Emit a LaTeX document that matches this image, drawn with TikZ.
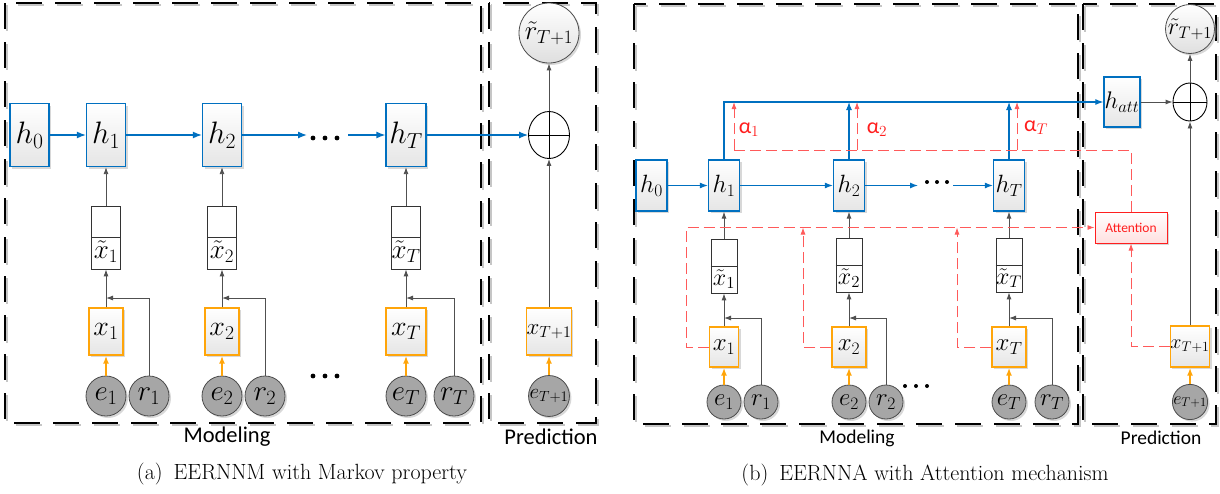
\RequirePackage{fix-cm}
\documentclass[tikz,border=0pt]{standalone}
\usepackage{fontspec}
\newfontfamily\calib{Carlito}
\usetikzlibrary{arrows.meta,shapes.geometric,shadows}
\definecolor{bblue}{RGB}{0,112,192}
\definecolor{oorange}{RGB}{255,165,10}
\definecolor{ggray}{RGB}{80,80,80}
\definecolor{cgray}{RGB}{166,166,166}
\definecolor{rred}{RGB}{255,30,30}
\definecolor{rpink}{RGB}{255,90,90}
\tikzset{
  shd/.style={drop shadow={shadow xshift=2pt,shadow yshift=-2pt,fill=black!30,opacity=.5}},
  hbox/.style={draw=bblue,line width=1.3pt,top color=white,bottom color=gray!20,inner sep=0pt,shd},
  xbox/.style={draw=oorange,line width=1.4pt,top color=white,bottom color=gray!20,inner sep=0pt,shd},
  tbox/.style={draw=black!80,line width=0.8pt,fill=white,inner sep=0pt},
  ecirc/.style={circle,draw=black!70,line width=0.8pt,fill=cgray,inner sep=0pt,shd},
  rcirc/.style={circle,draw=black!70,line width=0.8pt,top color=white,bottom color=gray!25,inner sep=0pt,shd},
  oplusn/.style={ellipse,draw=black,line width=0.9pt,fill=white,inner sep=0pt},
  attbox/.style={draw=rred,line width=1pt,top color=white,bottom color=red!12,inner sep=0pt,shd},
  blueArr/.style={bblue,line width=1.3pt,-{Latex[length=9pt,width=7pt]}},
  blueArrB/.style={bblue,line width=1.1pt,-{Latex[length=8pt,width=6pt]}},
  grayArr/.style={ggray,line width=0.9pt,-{Latex[length=7pt,width=5pt]}},
  orArr/.style={oorange,line width=1.6pt,-{Latex[length=8pt,width=6pt]}},
  redArr/.style={rpink,line width=0.9pt,dash pattern=on 11pt off 5pt,-{Latex[length=7pt,width=5pt]}},
  redLn/.style={rpink,line width=0.9pt,dash pattern=on 11pt off 5pt},
  framed/.style={line width=1.6pt,dash pattern=on 26pt off 13pt},
  frameSh/.style={gray!45,line width=1.6pt,dash pattern=on 26pt off 13pt},
  fa/.style={font=\fontsize{31}{33}\selectfont},
  fb/.style={font=\fontsize{25}{27}\selectfont},
  labA/.style={font=\calib\fontsize{22.5}{24}\selectfont,inner sep=0pt},
  labB/.style={font=\calib\fontsize{19.5}{22}\selectfont,inner sep=0pt},
  capt/.style={font=\fontsize{22}{24}\selectfont,inner sep=0pt},
  alab/.style={text=rred,font=\calib\fontsize{22}{24}\selectfont,inner sep=0pt}
}
\begin{document}
\begin{tikzpicture}[x=1pt,y=-1pt]
\useasboundingbox (0,0) rectangle (1220,493);
% ---------- frames (a)
\draw[frameSh] (7,5) rectangle (483,425);
\draw[frameSh] (491,5) rectangle (598,425);
\draw[framed] (5,3) rectangle (481,423);
\draw[framed] (489,3) rectangle (596,423);
% ---------- frames (b)
\draw[frameSh] (636,6) rectangle (1080,426);
\draw[frameSh] (1085,6) rectangle (1218,426);
\draw[framed] (634,4) rectangle (1078,424);
\draw[framed] (1083,4) rectangle (1216,424);

% ================= panel (a)
\node[hbox,fa,minimum width=39pt,minimum height=63pt] (h0a) at (29.5,135) {$h_0$};
\node[hbox,fa,minimum width=39pt,minimum height=63pt] (h1a) at (106,135) {$h_1$};
\node[hbox,fa,minimum width=39pt,minimum height=63pt] (h2a) at (222,135) {$h_2$};
\node[hbox,fa,minimum width=40pt,minimum height=63pt] (hTa) at (406,135) {$h_T$};
\node[oplusn,minimum width=41pt,minimum height=47pt] (opa) at (549,135) {};
\draw[black,line width=0.9pt] (opa.north) -- (opa.south) (opa.west) -- (opa.east);
\node[rcirc,minimum size=60pt,font=\fontsize{27}{29}\selectfont] (rta) at (549,33) {$\tilde r_{T+1}$};

\node[tbox,minimum width=29pt,minimum height=63pt] (xt1a) at (106,237.5) {};
\node[tbox,minimum width=29pt,minimum height=63pt] (xt2a) at (222,237.5) {};
\node[tbox,minimum width=29pt,minimum height=63pt] (xtTa) at (406,237.5) {};
\draw[black!80,line width=0.8pt] (xt1a.west) -- (xt1a.east) (xt2a.west) -- (xt2a.east) (xtTa.west) -- (xtTa.east);
\node[inner sep=0pt,font=\fontsize{27}{29}\selectfont] (lxt1a) at (106,252) {$\tilde{x}_1$};
\node[inner sep=0pt,font=\fontsize{27}{29}\selectfont] (lxt2a) at (222,252) {$\tilde{x}_2$};
\node[inner sep=0pt,font=\fontsize{27}{29}\selectfont] (lxtTa) at (406,252) {$\tilde{x}_T$};

\node[xbox,font=\fontsize{28}{30}\selectfont,minimum width=34pt,minimum height=47pt] (x1a) at (106,331.5) {$x_1$};
\node[xbox,font=\fontsize{28}{30}\selectfont,minimum width=34pt,minimum height=47pt] (x2a) at (222,331.5) {$x_2$};
\node[xbox,font=\fontsize{28}{30}\selectfont,minimum width=40pt,minimum height=47pt] (xTa) at (406,331.5) {$x_T$};
\node[xbox,font=\fontsize{23}{25}\selectfont,minimum width=43pt,minimum height=47pt] (xT1a) at (549,331.5) {$x_{T+1}$};

\node[ecirc,minimum size=40pt,font=\fontsize{29}{31}\selectfont] (e1a) at (106,396) {$e_1$};
\node[ecirc,minimum size=40pt,font=\fontsize{29}{31}\selectfont] (r1a) at (149,396) {$r_1$};
\node[ecirc,minimum size=40pt,font=\fontsize{29}{31}\selectfont] (e2a) at (222,396) {$e_2$};
\node[ecirc,minimum size=40pt,font=\fontsize{29}{31}\selectfont] (r2a) at (265,396) {$r_2$};
\node[ecirc,minimum size=40pt,font=\fontsize{29}{31}\selectfont] (eTa) at (406,396) {$e_T$};
\node[ecirc,minimum size=40pt,font=\fontsize{29}{31}\selectfont] (rTa) at (454,396) {$r_T$};
\node[ecirc,minimum size=40pt,font=\fontsize{21}{23}\selectfont] (eT1a) at (549,396) {$e_{T+1}$};

% dots
\foreach \xx in {313,325,337} {\fill (\xx,138) circle (2.4pt); \fill (\xx,376) circle (2.4pt);}
\coordinate (dAin) at (307,135);
\coordinate (dAout) at (348,135);

% connectors (a)
\draw[blueArr] (h0a) -- (h1a);
\draw[blueArr] (h1a) -- (h2a);
\draw[blueArr] (h2a.east) -- (dAin);
\draw[blueArr] (dAout) -- (hTa.west);
\draw[blueArr] (hTa.east) -- (opa.west);
\draw[grayArr] (opa.north) -- (rta.south);
\draw[grayArr] (xT1a.north) -- (opa.south);
\foreach \c in {1,2,T} {
  \draw[grayArr] (xt\c a.north) -- (h\c a.south);
  \draw[grayArr] (x\c a.north) -- (xt\c a.south);
  \draw[orArr] (e\c a.north) -- (x\c a.south);
}
\draw[orArr] (eT1a.north) -- (xT1a.south);
\coordinate (j1a) at (106,298);
\coordinate (j2a) at (222,298);
\coordinate (jTa) at (406,298);
\draw[grayArr] (r1a.north) |- (j1a);
\draw[grayArr] (r2a.north) |- (j2a);
\draw[grayArr] (rTa.north) |- (jTa);

\node[labA] (modA) at (227,437) {Modeling};
\node[labA] (preA) at (551,437) {Prediction};
\node[capt] (capA) at (302,474) {(a)\enspace EERNNM with Markov property};

% ================= panel (b)
\node[hbox,fb,minimum width=31pt,minimum height=51pt] (h0b) at (651.5,185.5) {$h_0$};
\node[hbox,fb,minimum width=31pt,minimum height=51pt] (h1b) at (724,185.5) {$h_1$};
\node[hbox,fb,minimum width=31pt,minimum height=51pt] (h2b) at (849,185.5) {$h_2$};
\node[hbox,fb,minimum width=31pt,minimum height=51pt] (hTb) at (1009,185.5) {$h_T$};
\node[hbox,font=\fontsize{24}{26}\selectfont,minimum width=36pt,minimum height=50pt] (hatt) at (1122,102) {$h_{att}$};
\node[oplusn,minimum width=34pt,minimum height=38pt] (opb) at (1190,102) {};
\draw[black,line width=0.9pt] (opb.north) -- (opb.south) (opb.west) -- (opb.east);
\node[rcirc,minimum size=49pt,font=\fontsize{24}{26}\selectfont] (rtb) at (1190,29) {$\tilde r_{T+1}$};
\node[attbox,minimum width=72pt,minimum height=31pt,text=rred,font=\calib\fontsize{13.5}{15}\selectfont] (att) at (1131,227.5) {Attention};

\node[tbox,minimum width=26pt,minimum height=54pt] (xt1b) at (724,266) {};
\node[tbox,minimum width=26pt,minimum height=54pt] (xt2b) at (849,265) {};
\node[tbox,minimum width=26pt,minimum height=54pt] (xtTb) at (1009,265) {};
\draw[black!80,line width=0.8pt] (xt1b.west) -- (xt1b.east) (xt2b.west) -- (xt2b.east) (xtTb.west) -- (xtTb.east);
\node[inner sep=0pt,font=\fontsize{24}{26}\selectfont] (lxt1b) at (724,279) {$\tilde{x}_1$};
\node[inner sep=0pt,font=\fontsize{24}{26}\selectfont] (lxt2b) at (849,278) {$\tilde{x}_2$};
\node[inner sep=0pt,font=\fontsize{24}{26}\selectfont] (lxtTb) at (1009,278) {$\tilde{x}_T$};

\node[xbox,font=\fontsize{25}{27}\selectfont,minimum width=29pt,minimum height=40pt] (x1b) at (724,347) {$x_1$};
\node[xbox,font=\fontsize{25}{27}\selectfont,minimum width=34pt,minimum height=40pt] (x2b) at (849,347) {$x_2$};
\node[xbox,font=\fontsize{25}{27}\selectfont,minimum width=34pt,minimum height=40pt] (xTb) at (1009,347) {$x_T$};
\node[xbox,font=\fontsize{20}{22}\selectfont,minimum width=36pt,minimum height=41pt] (xT1b) at (1190,346.5) {$x_{T+1}$};

\node[ecirc,minimum size=34pt,font=\fontsize{25}{27}\selectfont] (e1b) at (724,402) {$e_1$};
\node[ecirc,minimum size=34pt,font=\fontsize{25}{27}\selectfont] (r1b) at (761,402) {$r_1$};
\node[ecirc,minimum size=34pt,font=\fontsize{25}{27}\selectfont] (e2b) at (849,402) {$e_2$};
\node[ecirc,minimum size=34pt,font=\fontsize{25}{27}\selectfont] (r2b) at (886,402) {$r_2$};
\node[ecirc,minimum size=34pt,font=\fontsize{25}{27}\selectfont] (eTb) at (1009,402) {$e_T$};
\node[ecirc,minimum size=34pt,font=\fontsize{25}{27}\selectfont] (rTb) at (1052,402) {$r_T$};
\node[ecirc,minimum size=34pt,font=\fontsize{18}{20}\selectfont] (eT1b) at (1190,402) {$e_{T+1}$};

\foreach \xx in {927,937,947} {\fill (\xx,182) circle (2pt);}
\foreach \xx in {905,916,927} {\fill (\xx,386) circle (2pt);}
\coordinate (dBin) at (918,185.5);
\coordinate (dBout) at (953,185.5);

% blue connectors (b)
\draw[blueArrB] (h0b) -- (h1b);
\draw[blueArrB] (h1b) -- (h2b);
\draw[blueArrB] (h2b.east) -- (dBin);
\draw[blueArrB] (dBout) -- (hTb.west);
\draw[blueArrB] (h1b.north) |- (hatt.west);
\coordinate (t2b) at (849,102);
\coordinate (tTb) at (1009,102);
\draw[blueArrB] (h2b.north) -- (t2b);
\draw[blueArrB] (hTb.north) -- (tTb);
\draw[grayArr] (hatt.east) -- (opb.west);
\draw[grayArr] (opb.north) -- (rtb.south);
\draw[grayArr] (xT1b.north) -- (opb.south);
\foreach \c in {1,2,T} {
  \draw[grayArr] (xt\c b.north) -- (h\c b.south);
  \draw[grayArr] (x\c b.north) -- (xt\c b.south);
  \draw[orArr] (e\c b.north) -- (x\c b.south);
}
\draw[orArr] (eT1b.north) -- (xT1b.south);
\coordinate (j1b) at (724,318);
\coordinate (j2b) at (849,318);
\coordinate (jTb) at (1009,318);
\draw[grayArr] (r1b.north) |- (j1b);
\draw[grayArr] (r2b.north) |- (j2b);
\draw[grayArr] (rTb.north) |- (jTb);

% red attention connectors
\coordinate (a1lo) at (734,150);
\coordinate (a1hi) at (734,102);
\coordinate (a2lo) at (857,150);
\coordinate (a2hi) at (857,102);
\coordinate (aTlo) at (1017,150);
\coordinate (aThi) at (1017,102);
\draw[redLn] (att.north) |- (a1lo);
\draw[redArr] (a1lo) -- (a1hi);
\draw[redArr] (a2lo) -- (a2hi);
\draw[redArr] (aTlo) -- (aThi);
\coordinate (k1) at (686,227.5);
\coordinate (k2) at (803,227.5);
\coordinate (kT) at (957,227.5);
\draw[redArr] (x1b.west) -| (k1) -- (att.west);
\draw[redArr] (x2b.west) -| (k2);
\draw[redArr] (xTb.west) -| (kT);
\draw[redArr] (xT1b.west) -| (att.south);

\node[alab] (al1) at (749,130) {α$_1$};
\node[alab] (al2) at (877,130) {α$_2$};
\node[alab] (alT) at (1036,128) {α$_T$};

\node[labB] (modB) at (857,438) {Modeling};
\node[labB] (preB) at (1161,438) {Prediction};
\node[capt] (capB) at (925,475) {(b)\enspace EERNNA with Attention mechanism};
\end{tikzpicture}
\end{document}
